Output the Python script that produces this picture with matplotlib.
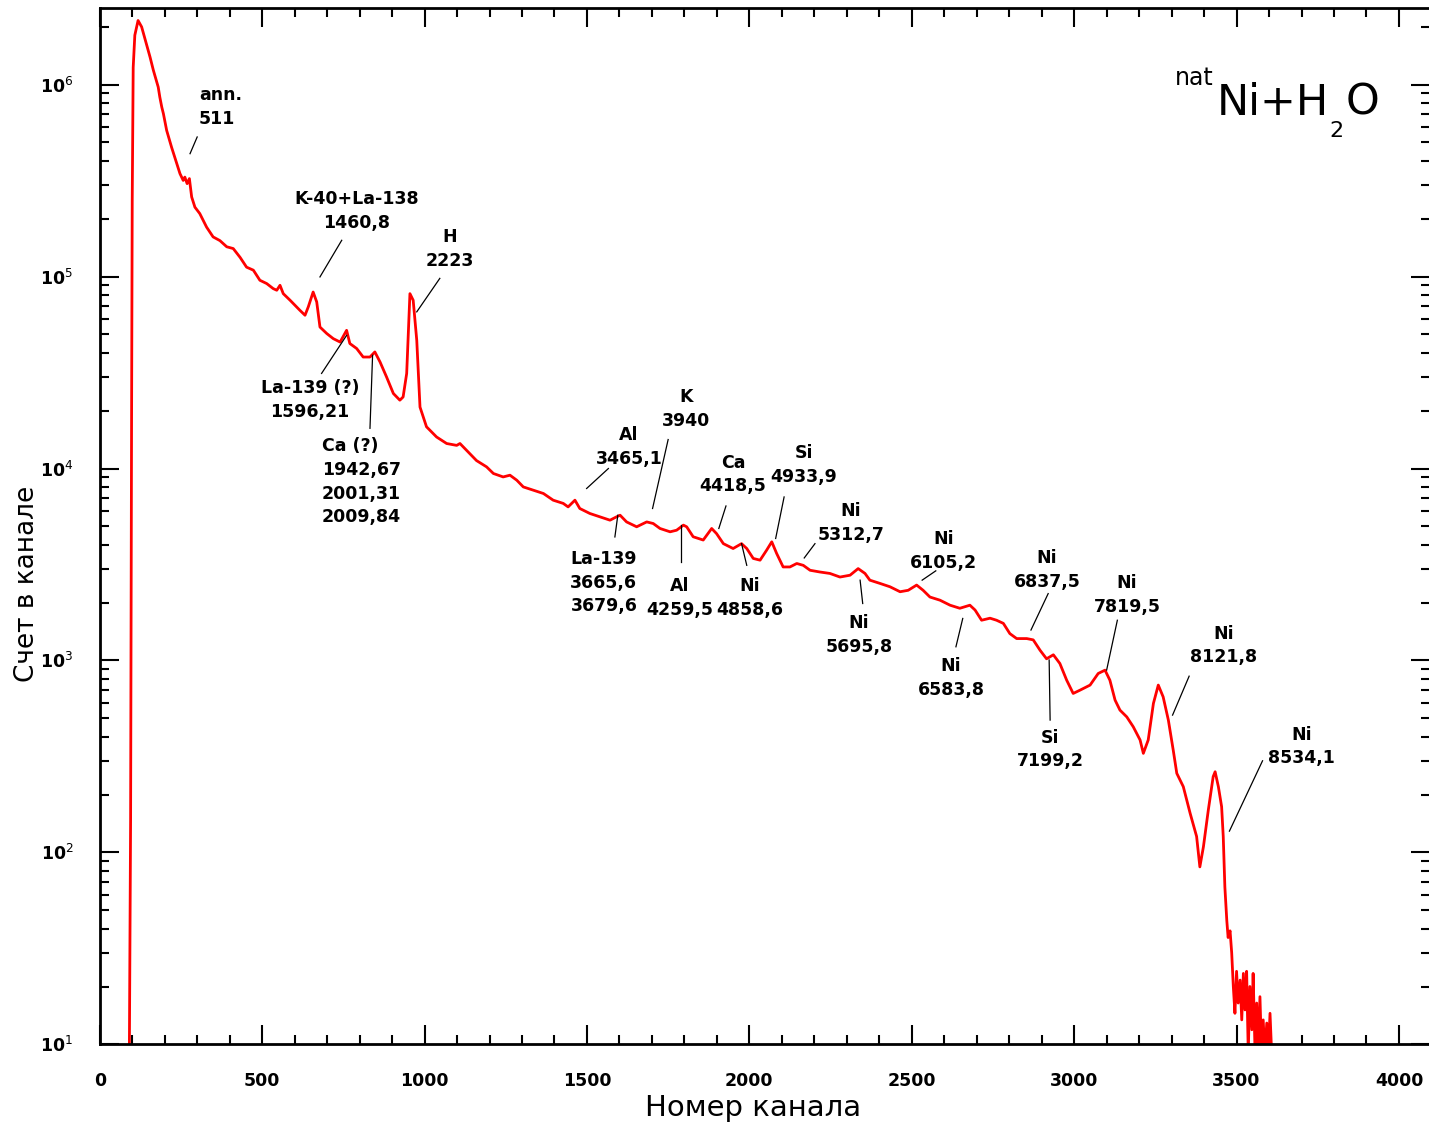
import numpy as np
import matplotlib
matplotlib.use("Agg")
import matplotlib.pyplot as plt
from matplotlib.ticker import FixedLocator, MultipleLocator, LogLocator, NullFormatter

# Gamma spectrum, natNi + H2O: channel number vs counts per channel
channels = [91, 95, 98, 100, 103, 108, 118, 129, 155, 165,
            180, 185, 191, 196, 206, 221, 237, 247, 257, 262,
            269, 276, 283, 293, 308, 329, 349, 370, 391, 411,
            432, 452, 473, 493, 514, 534, 545, 555, 565, 586,
            616, 632, 642, 657, 668, 678, 699, 719, 740, 760,
            770, 791, 811, 832, 847, 863, 883, 904, 924, 934,
            945, 955, 965, 976, 986, 1006, 1037, 1068, 1099, 1109,
            1130, 1160, 1191, 1212, 1242, 1263, 1284, 1304, 1335, 1366,
            1396, 1427, 1442, 1463, 1478, 1509, 1540, 1571, 1591, 1602,
            1622, 1653, 1684, 1704, 1725, 1756, 1776, 1797, 1807, 1827,
            1858, 1884, 1899, 1920, 1950, 1976, 1992, 2012, 2033, 2053,
            2069, 2084, 2104, 2125, 2146, 2166, 2187, 2217, 2248, 2279,
            2310, 2335, 2356, 2371, 2402, 2433, 2464, 2489, 2515, 2535,
            2556, 2587, 2618, 2648, 2679, 2695, 2715, 2741, 2761, 2782,
            2802, 2823, 2854, 2874, 2895, 2915, 2936, 2956, 2977, 2997,
            3018, 3049, 3074, 3095, 3110, 3126, 3141, 3162, 3182, 3203,
            3213, 3228, 3244, 3259, 3274, 3290, 3305, 3316, 3336, 3357,
            3377, 3387, 3398, 3413, 3428, 3434, 3444, 3454, 3459, 3464,
            3470, 3474, 3480, 3485, 3490, 3495, 3500, 3505, 3511, 3516,
            3521, 3526, 3531, 3536, 3541, 3547, 3551, 3557, 3562, 3567,
            3572, 3577, 3582, 3587, 3593, 3598, 3603, 3608]

counts = [8, 147, 18500, 249000, 1230000, 1810000, 2160000, 2000000, 1390000, 1190000,
          972000, 861000, 764000, 706000, 578000, 473000, 388000, 344000, 317000, 330000,
          305000, 324000, 260000, 230000, 213000, 181000, 161000, 154000, 143000, 140000,
          126000, 112000, 108000, 95700, 92000, 86600, 84900, 90100, 81500, 75300,
          66800, 62900, 69500, 83100, 73800, 54600, 50500, 47500, 45600, 52500,
          44800, 42200, 38100, 38100, 40500, 35900, 30000, 24600, 22700, 23600,
          31300, 81500, 75300, 46600, 20900, 16500, 14600, 13500, 13200, 13500,
          12400, 11000, 10200, 9420, 9040, 9230, 8690, 8020, 7710, 7410,
          6840, 6580, 6310, 6840, 6190, 5830, 5600, 5380, 5600, 5710,
          5270, 4970, 5270, 5170, 4870, 4680, 4770, 5070, 4970, 4410,
          4240, 4870, 4580, 4060, 3830, 4060, 3830, 3400, 3330, 3750,
          4150, 3610, 3070, 3070, 3200, 3130, 2950, 2890, 2840, 2720,
          2780, 3010, 2840, 2620, 2520, 2420, 2280, 2320, 2470, 2320,
          2140, 2060, 1940, 1870, 1940, 1830, 1620, 1660, 1620, 1560,
          1380, 1300, 1300, 1280, 1130, 1020, 1070, 964, 789, 673,
          700, 744, 855, 890, 789, 621, 551, 508, 451, 385,
          328, 385, 597, 744, 646, 489, 341, 258, 220, 160,
          121, 84, 107, 166, 248, 263, 220, 173, 121, 66,
          44, 36, 39, 30, 20, 14.5, 24, 16.4, 21.6, 13.4,
          23.4, 15.1, 24, 9, 20, 11.9, 23.4, 9, 16.4, 9,
          17.7, 9, 13.4, 9, 12.9, 9, 14.5, 9]

# Peak labels (energies in keV) and their leader lines
peak_labels = ["ann.\n511", "K-40+La-138\n1460,8", "H\n2223", "La-139 (?)\n1596,21",
               "Ca (?)\n1942,67\n2001,31\n2009,84", "Al\n3465,1", "K\n3940", "Ca\n4418,5",
               "Si\n4933,9", "Ni\n5312,7", "Ni\n6105,2", "Ni\n6837,5", "Ni\n7819,5",
               "Ni\n8121,8", "Ni\n8534,1", "La-139\n3665,6\n3679,6", "Al\n4259,5",
               "Ni\n4858,6", "Ni\n5695,8", "Ni\n6583,8", "Si\n7199,2"]
label_x = [305, 792, 1078, 647, 684, 1629, 1805, 1950, 2168, 2313, 2599,
           2916, 3163, 3461, 3699, 1552, 1786, 2002, 2337, 2621, 2926]
label_y = [766000, 219000, 139700, 22800, 8530, 12970, 20470, 9290, 10400, 5220, 3730,
           2950, 2200, 1194, 356, 2540, 2120, 2120, 1355, 809, 343]
label_ha = ["left", "center", "center", "center", "left"] + ["center"] * 16
lead_x0 = [300, 745, 1047, 683, 832, 1566, 1750, 1928, 2107, 2202, 2574,
           2920, 3133, 3354, 3580, 1586, 1789, 1992, 2349, 2636, 2926]
lead_y0 = [534000, 154600, 97900, 31300, 16200, 10000, 14160, 6380, 7110, 4060, 2930,
           2230, 1620, 828, 300, 4400, 3270, 3130, 1980, 1178, 489]
lead_x1 = [278, 678, 976, 760, 840, 1499, 1702, 1906, 2081, 2169, 2532,
           2867, 3100, 3303, 3478, 1595, 1789, 1976, 2341, 2657, 2923]
lead_y1 = [437000, 99600, 65500, 49400, 38900, 7870, 6190, 4870, 4320, 3420, 2620,
           1440, 891, 519, 129, 5710, 5070, 4060, 2620, 1655, 1005]

fig = plt.figure(figsize=(14.29, 11.23), dpi=100)
ax = fig.add_axes([0.0698, 0.0701, 0.931, 0.9225])

ax.plot(channels, counts, color="red", linewidth=2.0)

ax.set_yscale("log")
ax.set_xlim(0, 4096)
ax.set_ylim(10, 2.5e6)

ax.xaxis.set_major_locator(MultipleLocator(500))
ax.xaxis.set_minor_locator(MultipleLocator(100))
ax.set_xticks(range(0, 4001, 500))
ax.set_xticklabels([str(v) for v in range(0, 4001, 500)], fontweight="bold")

decades = [1, 2, 3, 4, 5, 6]
ax.yaxis.set_major_locator(FixedLocator([10.0 ** d for d in decades]))
ax.yaxis.set_minor_locator(LogLocator(base=10, subs=np.arange(2, 10)))
ax.yaxis.set_minor_formatter(NullFormatter())
ax.set_yticklabels([r"$\mathbf{10}^{%d}$" % d for d in decades])

ax.tick_params(which="both", direction="in", top=True, right=True, width=1.5)
ax.tick_params(which="major", length=13.5)
ax.tick_params(which="minor", length=6.5)
ax.tick_params(axis="x", labelsize=12.5, pad=20)
ax.tick_params(axis="y", labelsize=12.5, pad=19)
for s in ax.spines.values():
    s.set_linewidth(2)

for lab, tx, ty, ha, x0, y0, x1, y1 in zip(peak_labels, label_x, label_y, label_ha,
                                            lead_x0, lead_y0, lead_x1, lead_y1):
    ax.text(tx, ty, lab, ha=ha, va="center", fontsize=12.5, fontweight="bold",
            linespacing=1.4)
    ax.plot([x0, x1], [y0, y1], color="black", linewidth=0.9)

# sample label in the upper right corner
fig.text(1175 / 1429, 1 - 85 / 1123, "nat", fontsize=17, va="baseline")
fig.text(1217 / 1429, 1 - 115 / 1123, "Ni+H", fontsize=31, va="baseline")
fig.text(1329 / 1429, 1 - 137 / 1123, "2", fontsize=16, va="baseline")
fig.text(1346 / 1429, 1 - 115 / 1123, "O", fontsize=31, va="baseline")

fig.text(753 / 1429, 1 - 1108 / 1123, "Номер канала", fontsize=21, ha="center", va="center")
fig.text(27 / 1429, 1 - 584 / 1123, "Счет в канале", fontsize=19, ha="center", va="center",
         rotation=90)

fig.savefig("out.png", dpi=100)
